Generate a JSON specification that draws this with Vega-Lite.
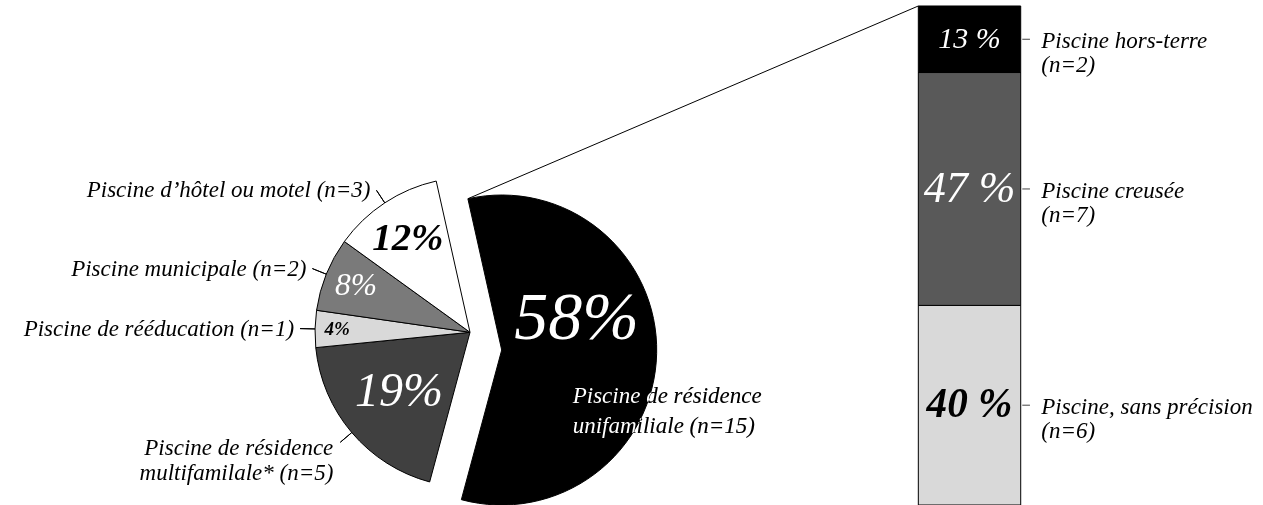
{
  "$schema": "https://vega.github.io/schema/vega-lite/v6.json",
  "width": 1263,
  "height": 505,
  "padding": 0,
  "autosize": {"type": "none"},
  "background": "white",
  "config": {"view": {"stroke": null}, "font": "Liberation Serif"},
  "datasets": {
    "pie": [
      {"type": "Piscine de résidence unifamiliale", "n": 15, "pct": "58%", "label": "Piscine de résidence\nunifamiliale (n=15)"},
      {"type": "Piscine de résidence multifamiliale", "n": 5, "pct": "19%", "label": "Piscine de résidence\nmultifamilale* (n=5)"},
      {"type": "Piscine de rééducation", "n": 1, "pct": "4%", "label": "Piscine de rééducation (n=1)"},
      {"type": "Piscine municipale", "n": 2, "pct": "8%", "label": "Piscine municipale (n=2)"},
      {"type": "Piscine d’hôtel ou motel", "n": 3, "pct": "12%", "label": "Piscine d’hôtel ou motel (n=3)"}
    ],
    "bar": [
      {"type": "Piscine, sans précision", "n": 6, "pct": "40 %", "label": "Piscine, sans précision\n(n=6)"},
      {"type": "Piscine creusée", "n": 7, "pct": "47 %", "label": "Piscine creusée\n(n=7)"},
      {"type": "Piscine hors-terre", "n": 2, "pct": "13 %", "label": "Piscine hors-terre\n(n=2)"}
    ]
  },
  "resolve": {"scale": {"fill": "independent", "size": "independent"}},
  "layer": [
    {
      "data": {"name": "pie"},
      "transform": [{"filter": "datum.type === 'Piscine de résidence unifamiliale'"}],
      "mark": {"type": "rule", "stroke": "black", "strokeWidth": 1},
      "encoding": {
        "x": {"datum": 14.065, "type": "quantitative", "scale": {"domain": [0, 37.965], "nice": false, "zero": false}, "axis": null},
        "y": {"datum": 9.207, "type": "quantitative", "scale": {"domain": [0, 15.18], "nice": false, "zero": false}, "axis": null},
        "x2": {"datum": 27.604},
        "y2": {"datum": 15}
      }
    },
    {
      "data": {"name": "pie"},
      "transform": [{"stack": "n", "groupby": [], "as": ["s0", "s1"]}],
      "layer": [
        {
          "mark": {"type": "arc", "outerRadius": 155, "stroke": "black", "strokeWidth": 1},
          "encoding": {
            "x": {"datum": 14.128, "type": "quantitative", "scale": {"domain": [0, 37.965], "nice": false, "zero": false}, "axis": null},
            "y": {"datum": 5.191, "type": "quantitative", "scale": {"domain": [0, 15.18], "nice": false, "zero": false}, "axis": null},
            "theta": {"field": "n", "type": "quantitative", "stack": true, "scale": {"range": [-0.2199, 6.0633]}},
            "order": {"field": "s0", "type": "quantitative"},
            "fill": {"field": "type", "type": "nominal", "legend": null, "scale": {"domain": ["Piscine de résidence unifamiliale", "Piscine de résidence multifamiliale", "Piscine de rééducation", "Piscine municipale", "Piscine d’hôtel ou motel"], "range": ["#000000", "#404040", "#d9d9d9", "#7a7a7a", "#ffffff"]}},
            "opacity": {"condition": {"test": "datum.type === 'Piscine de résidence unifamiliale'", "value": 0}, "value": 1}
          }
        },
        {
          "mark": {"type": "arc", "outerRadius": 155, "stroke": "black", "strokeWidth": 1},
          "encoding": {
            "x": {"datum": 15.081, "type": "quantitative", "scale": {"domain": [0, 37.965], "nice": false, "zero": false}, "axis": null},
            "y": {"datum": 4.659, "type": "quantitative", "scale": {"domain": [0, 15.18], "nice": false, "zero": false}, "axis": null},
            "theta": {"field": "n", "type": "quantitative", "stack": true, "scale": {"range": [-0.2199, 6.0633]}},
            "order": {"field": "s0", "type": "quantitative"},
            "fill": {"field": "type", "type": "nominal", "legend": null, "scale": {"domain": ["Piscine de résidence unifamiliale", "Piscine de résidence multifamiliale", "Piscine de rééducation", "Piscine municipale", "Piscine d’hôtel ou motel"], "range": ["#000000", "#404040", "#d9d9d9", "#7a7a7a", "#ffffff"]}},
            "opacity": {"condition": {"test": "datum.type === 'Piscine de résidence unifamiliale'", "value": 1}, "value": 0}
          }
        },
        {
          "mark": {"type": "arc", "innerRadius": 155, "outerRadius": 170, "padAngle": 3, "stroke": "black", "strokeWidth": 1, "fillOpacity": 0},
          "encoding": {
            "x": {"datum": 14.128, "type": "quantitative", "scale": {"domain": [0, 37.965], "nice": false, "zero": false}, "axis": null},
            "y": {"datum": 5.191, "type": "quantitative", "scale": {"domain": [0, 15.18], "nice": false, "zero": false}, "axis": null},
            "theta": {"field": "n", "type": "quantitative", "stack": true, "scale": {"range": [-0.2199, 6.0633]}},
            "order": {"field": "s0", "type": "quantitative"},
            "opacity": {"condition": {"test": "datum.type === 'Piscine de résidence unifamiliale'", "value": 0}, "value": 1}
          }
        },
        {
          "mark": {"type": "text", "fill": "white", "fontStyle": "italic", "fontWeight": "normal", "align": "center", "baseline": "middle"},
          "encoding": {
            "x": {"datum": 14.128, "type": "quantitative", "scale": {"domain": [0, 37.965], "nice": false, "zero": false}, "axis": null},
            "y": {"datum": 5.191, "type": "quantitative", "scale": {"domain": [0, 15.18], "nice": false, "zero": false}, "axis": null},
            "theta": {"field": "n", "type": "quantitative", "stack": true, "scale": {"range": [-0.2199, 6.0633]}},
            "order": {"field": "s0", "type": "quantitative"},
            "radius": {"field": "n", "type": "quantitative", "scale": {"type": "linear", "domain": [1, 5], "range": [133, 93], "zero": false}},
            "size": {"field": "n", "type": "quantitative", "legend": null, "scale": {"type": "log", "domain": [1, 15], "range": [19, 68]}},
            "text": {"field": "pct"},
            "opacity": {"condition": {"test": "datum.type === 'Piscine de résidence multifamiliale' || datum.type === 'Piscine municipale'", "value": 1}, "value": 0}
          }
        },
        {
          "mark": {"type": "text", "fill": "black", "fontStyle": "italic", "fontWeight": "bold", "align": "center", "baseline": "middle"},
          "encoding": {
            "x": {"datum": 14.128, "type": "quantitative", "scale": {"domain": [0, 37.965], "nice": false, "zero": false}, "axis": null},
            "y": {"datum": 5.191, "type": "quantitative", "scale": {"domain": [0, 15.18], "nice": false, "zero": false}, "axis": null},
            "theta": {"field": "n", "type": "quantitative", "stack": true, "scale": {"range": [-0.2199, 6.0633]}},
            "order": {"field": "s0", "type": "quantitative"},
            "radius": {"field": "n", "type": "quantitative", "scale": {"type": "linear", "domain": [1, 5], "range": [133, 93], "zero": false}},
            "size": {"field": "n", "type": "quantitative", "legend": null, "scale": {"type": "log", "domain": [1, 15], "range": [19, 68]}},
            "text": {"field": "pct"},
            "opacity": {"condition": {"test": "datum.type === 'Piscine de rééducation' || datum.type === 'Piscine d’hôtel ou motel'", "value": 1}, "value": 0}
          }
        },
        {
          "mark": {"type": "text", "fill": "white", "fontStyle": "italic", "fontWeight": "normal", "align": "center", "baseline": "middle", "radius": 81, "dx": -6, "dy": -33},
          "encoding": {
            "x": {"datum": 15.081, "type": "quantitative", "scale": {"domain": [0, 37.965], "nice": false, "zero": false}, "axis": null},
            "y": {"datum": 4.659, "type": "quantitative", "scale": {"domain": [0, 15.18], "nice": false, "zero": false}, "axis": null},
            "theta": {"field": "n", "type": "quantitative", "stack": true, "scale": {"range": [-0.2199, 6.0633]}},
            "order": {"field": "s0", "type": "quantitative"},
            "size": {"field": "n", "type": "quantitative", "legend": null, "scale": {"type": "log", "domain": [1, 15], "range": [19, 68]}},
            "text": {"field": "pct"},
            "opacity": {"condition": {"test": "datum.type === 'Piscine de résidence unifamiliale'", "value": 1}, "value": 0}
          }
        },
        {
          "mark": {"type": "text", "fill": "black", "fontStyle": "italic", "fontSize": 23, "align": "right", "baseline": "middle", "radius": 170, "dx": -6},
          "encoding": {
            "x": {"datum": 14.128, "type": "quantitative", "scale": {"domain": [0, 37.965], "nice": false, "zero": false}, "axis": null},
            "y": {"datum": 5.191, "type": "quantitative", "scale": {"domain": [0, 15.18], "nice": false, "zero": false}, "axis": null},
            "theta": {"field": "n", "type": "quantitative", "stack": true, "scale": {"range": [-0.2199, 6.0633]}},
            "order": {"field": "s0", "type": "quantitative"},
            "text": {"field": "label"},
            "opacity": {"condition": {"test": "datum.type === 'Piscine de rééducation' || datum.type === 'Piscine municipale' || datum.type === 'Piscine d’hôtel ou motel'", "value": 1}, "value": 0}
          }
        },
        {
          "mark": {"type": "text", "fill": "black", "fontStyle": "italic", "fontSize": 23, "align": "right", "baseline": "top", "radius": 170, "dx": -7, "dy": -5, "lineBreak": "\n", "lineHeight": 25},
          "encoding": {
            "x": {"datum": 14.128, "type": "quantitative", "scale": {"domain": [0, 37.965], "nice": false, "zero": false}, "axis": null},
            "y": {"datum": 5.191, "type": "quantitative", "scale": {"domain": [0, 15.18], "nice": false, "zero": false}, "axis": null},
            "theta": {"field": "n", "type": "quantitative", "stack": true, "scale": {"range": [-0.2199, 6.0633]}},
            "order": {"field": "s0", "type": "quantitative"},
            "text": {"field": "label"},
            "opacity": {"condition": {"test": "datum.type === 'Piscine de résidence multifamiliale'", "value": 1}, "value": 0}
          }
        },
        {
          "mark": {"type": "text", "fill": "white", "blend": "difference", "fontStyle": "italic", "fontSize": 23, "align": "left", "baseline": "alphabetic", "radius": 71, "dy": 51, "lineBreak": "\n", "lineHeight": 30},
          "encoding": {
            "x": {"datum": 15.081, "type": "quantitative", "scale": {"domain": [0, 37.965], "nice": false, "zero": false}, "axis": null},
            "y": {"datum": 4.659, "type": "quantitative", "scale": {"domain": [0, 15.18], "nice": false, "zero": false}, "axis": null},
            "theta": {"field": "n", "type": "quantitative", "stack": true, "scale": {"range": [-0.2199, 6.0633]}},
            "order": {"field": "s0", "type": "quantitative"},
            "text": {"field": "label"},
            "opacity": {"condition": {"test": "datum.type === 'Piscine de résidence unifamiliale'", "value": 1}, "value": 0}
          }
        }
      ]
    },
    {
      "data": {"name": "bar"},
      "transform": [{"stack": "n", "groupby": [], "as": ["s0", "s1"]}],
      "layer": [
        {
          "mark": {"type": "bar", "stroke": "black", "strokeWidth": 1},
          "encoding": {
            "x": {"datum": 27.604, "type": "quantitative", "scale": {"domain": [0, 37.965], "nice": false, "zero": false}, "axis": null},
            "x2": {"datum": 30.682},
            "y": {"field": "s0", "type": "quantitative", "scale": {"domain": [0, 15.18], "nice": false, "zero": false}, "axis": null},
            "y2": {"field": "s1"},
            "fill": {"field": "type", "type": "nominal", "legend": null, "scale": {"domain": ["Piscine, sans précision", "Piscine creusée", "Piscine hors-terre"], "range": ["#d9d9d9", "#595959", "#000000"]}}
          }
        },
        {
          "mark": {"type": "rule", "stroke": "#444444", "strokeWidth": 1},
          "encoding": {
            "x": {"datum": 30.73, "type": "quantitative", "scale": {"domain": [0, 37.965], "nice": false, "zero": false}, "axis": null},
            "x2": {"datum": 30.96},
            "y": {"field": "n", "type": "quantitative", "stack": "zero", "bandPosition": 0.5, "scale": {"domain": [0, 15.18], "nice": false, "zero": false}, "axis": null},
            "order": {"field": "s0", "type": "quantitative"}
          }
        },
        {
          "mark": {"type": "text", "fill": "white", "fontStyle": "italic", "fontWeight": "normal", "align": "center", "baseline": "middle"},
          "encoding": {
            "x": {"datum": 29.143, "type": "quantitative", "scale": {"domain": [0, 37.965], "nice": false, "zero": false}, "axis": null},
            "y": {"field": "n", "type": "quantitative", "stack": "zero", "bandPosition": 0.5, "scale": {"domain": [0, 15.18], "nice": false, "zero": false}, "axis": null},
            "order": {"field": "s0", "type": "quantitative"},
            "size": {"field": "n", "type": "quantitative", "legend": null, "scale": {"type": "linear", "domain": [2, 7], "range": [30, 44], "zero": false}},
            "text": {"field": "pct"},
            "opacity": {"condition": {"test": "datum.type === 'Piscine, sans précision'", "value": 0}, "value": 1}
          }
        },
        {
          "mark": {"type": "text", "fill": "black", "fontStyle": "italic", "fontWeight": "bold", "align": "center", "baseline": "middle"},
          "encoding": {
            "x": {"datum": 29.143, "type": "quantitative", "scale": {"domain": [0, 37.965], "nice": false, "zero": false}, "axis": null},
            "y": {"field": "n", "type": "quantitative", "stack": "zero", "bandPosition": 0.5, "scale": {"domain": [0, 15.18], "nice": false, "zero": false}, "axis": null},
            "order": {"field": "s0", "type": "quantitative"},
            "size": {"field": "n", "type": "quantitative", "legend": null, "scale": {"type": "linear", "domain": [2, 7], "range": [30, 44], "zero": false}},
            "text": {"field": "pct"},
            "opacity": {"condition": {"test": "datum.type === 'Piscine, sans précision'", "value": 1}, "value": 0}
          }
        },
        {
          "mark": {"type": "text", "fill": "black", "fontStyle": "italic", "fontSize": 23, "align": "left", "baseline": "alphabetic", "dy": 9, "lineBreak": "\n", "lineHeight": 24},
          "encoding": {
            "x": {"datum": 31.3, "type": "quantitative", "scale": {"domain": [0, 37.965], "nice": false, "zero": false}, "axis": null},
            "y": {"field": "n", "type": "quantitative", "stack": "zero", "bandPosition": 0.5, "scale": {"domain": [0, 15.18], "nice": false, "zero": false}, "axis": null},
            "order": {"field": "s0", "type": "quantitative"},
            "text": {"field": "label"}
          }
        }
      ]
    }
  ]
}
